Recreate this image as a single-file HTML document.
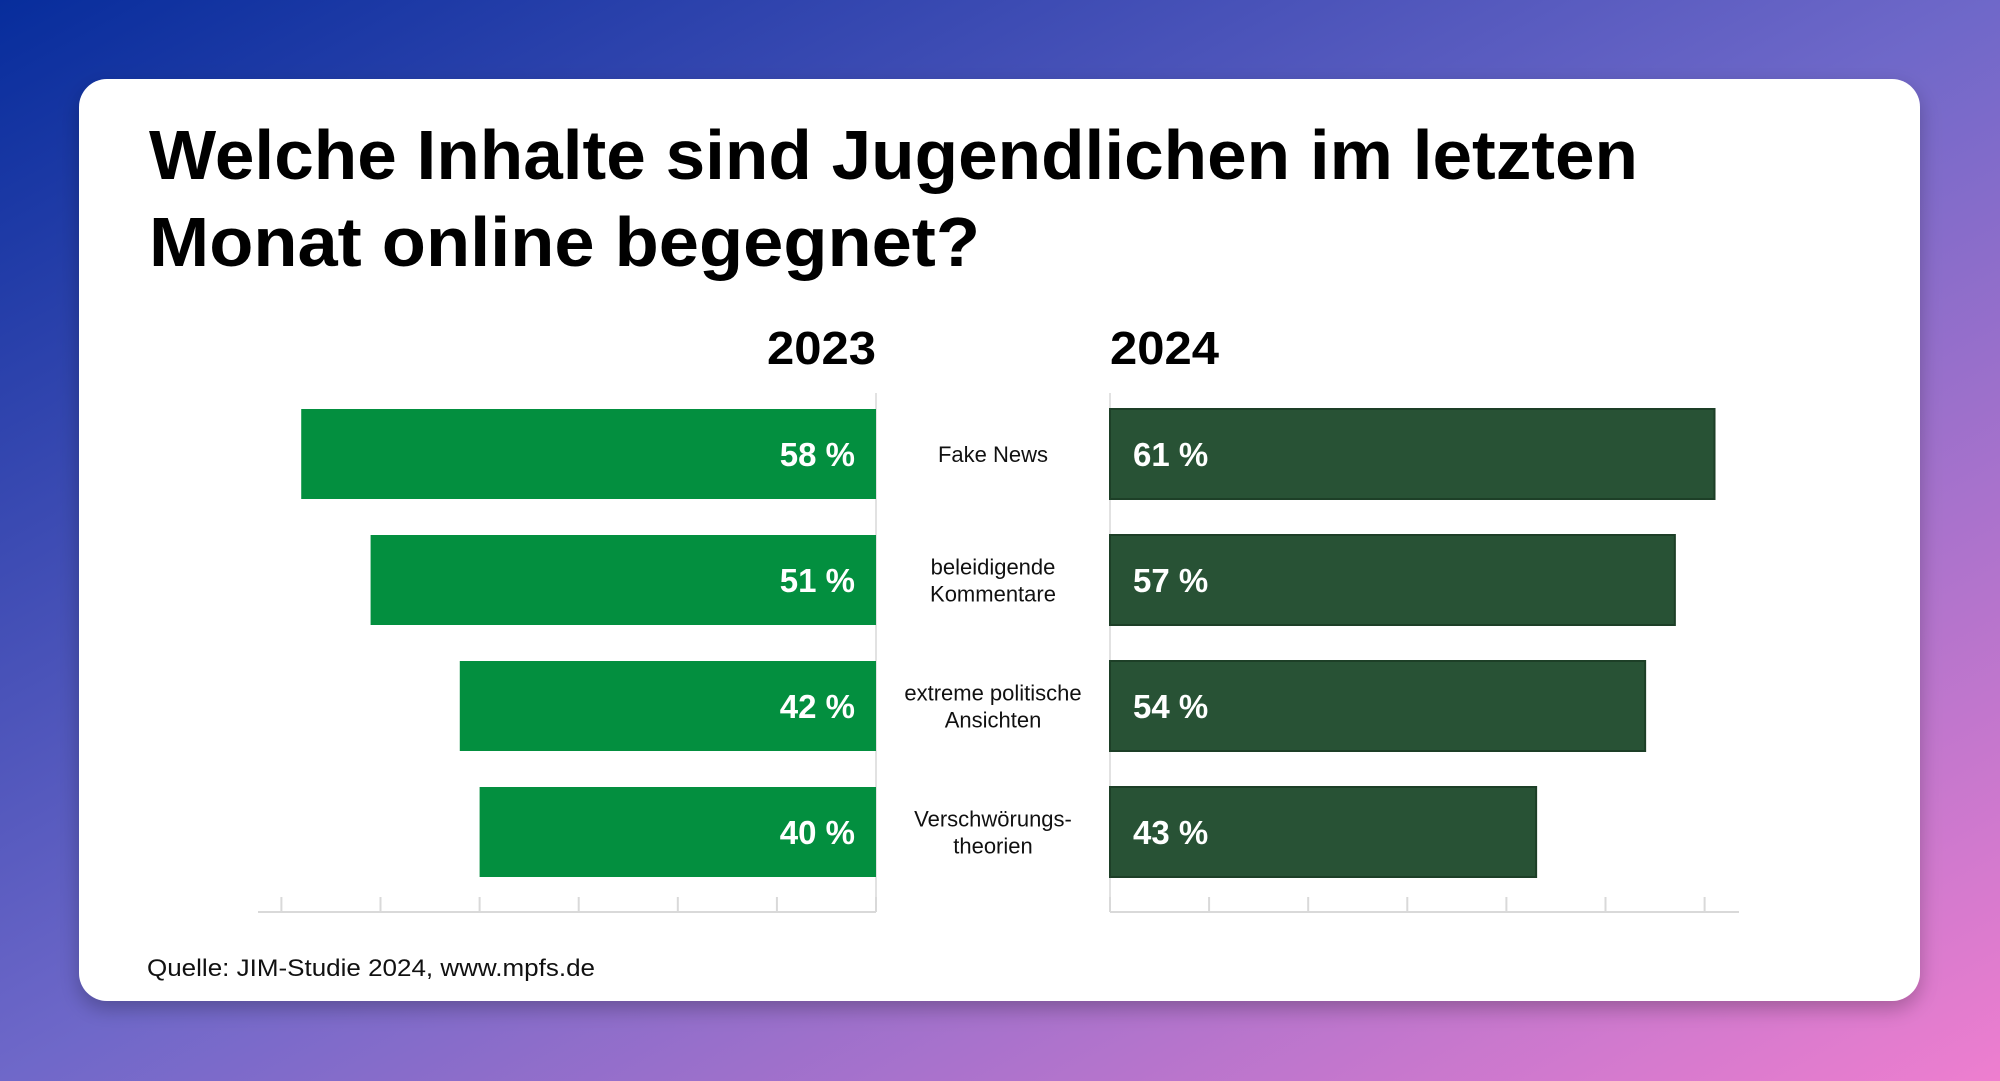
<!DOCTYPE html>
<html><head><meta charset="utf-8"><style>
html,body{margin:0;padding:0;width:2000px;height:1081px;overflow:hidden}
svg{display:block;font-family:"Liberation Sans",sans-serif}
</style></head><body>
<svg id="chart" width="2000" height="1081" viewBox="0 0 2000 1081" xmlns="http://www.w3.org/2000/svg">
<defs>
<linearGradient id="bg" x1="0" y1="0" x2="1" y2="1">
<stop offset="0" stop-color="#072d9c"/><stop offset="0.5" stop-color="#6f68c9"/><stop offset="1" stop-color="#ee7ecf"/>
</linearGradient>
<filter id="sh" x="-5%" y="-5%" width="110%" height="115%"><feDropShadow dx="0" dy="8" stdDeviation="10" flood-color="#000" flood-opacity="0.25"/></filter>
</defs>
<rect x="0" y="0" width="2000" height="1081" fill="url(#bg)"/>
<rect x="79" y="79" width="1841" height="922" rx="28" fill="#fff" filter="url(#sh)"/>
<text x="149" y="179" font-size="70" font-weight="bold" fill="#000" textLength="1489" lengthAdjust="spacingAndGlyphs">Welche Inhalte sind Jugendlichen im letzten</text>
<text x="149" y="266" font-size="70" font-weight="bold" fill="#000" textLength="831" lengthAdjust="spacingAndGlyphs">Monat online begegnet?</text>
<text x="876" y="364" font-size="46" font-weight="bold" text-anchor="end" textLength="109" lengthAdjust="spacingAndGlyphs">2023</text>
<text x="1110" y="364" font-size="46" font-weight="bold" textLength="109" lengthAdjust="spacingAndGlyphs">2024</text>
<text x="147" y="976" font-size="24" fill="#111" textLength="448" lengthAdjust="spacingAndGlyphs">Quelle: JIM-Studie 2024, www.mpfs.de</text>
<g id="plot"></g>
</svg>
<script>
const categories = [["Fake News"],["beleidigende","Kommentare"],["extreme politische","Ansichten"],["Verschwörungs-","theorien"]];
const values2023 = [58, 51, 42, 40];
const values2024 = [61, 57, 54, 43];
const ticks = [0, 10, 20, 30, 40, 50, 60];

const NS = "http://www.w3.org/2000/svg";
const g = document.getElementById('plot');
const L0 = 876, R0 = 1110, K = 9.91;
const xl = v => L0 - v * K;
const xr = v => R0 + v * K;
const rowY = i => 409 + i * 126;
const barH = 90;
const baseY = 912;
function mk(tag, attrs){const e=document.createElementNS(NS,tag);for(const k in attrs)e.setAttribute(k,attrs[k]);g.appendChild(e);return e;}

let e;
e = mk('line',{x1:L0,y1:393,x2:L0,y2:baseY,stroke:'#e2e2e2','stroke-width':2});


e = mk('line',{x1:R0,y1:393,x2:R0,y2:baseY,stroke:'#e2e2e2','stroke-width':2});


e = mk('line',{x1:258,y1:baseY,x2:L0,y2:baseY,stroke:'#d9d9d9','stroke-width':2});


e = mk('line',{x1:R0,y1:baseY,x2:1739,y2:baseY,stroke:'#d9d9d9','stroke-width':2});


ticks.forEach(t=>{
  let a = mk('line',{x1:xl(t),y1:baseY-15,x2:xl(t),y2:baseY,stroke:'#d9d9d9','stroke-width':2});
  
  
  let b = mk('line',{x1:xr(t),y1:baseY-15,x2:xr(t),y2:baseY,stroke:'#d9d9d9','stroke-width':2});
  
  
});
categories.forEach((c,i)=>{
  const y = rowY(i);
  let b1 = mk('rect',{x:xl(values2023[i]),y:y,width:values2023[i]*K,height:barH,fill:'#038f3f'});
  
  
  let b2 = mk('rect',{x:R0,y:y,width:values2024[i]*K,height:barH,fill:'#285235',stroke:'#1d3f27','stroke-width':2});
  
  
  let v1 = mk('text',{x:855,y:y+57,'font-size':33,'font-weight':'bold',fill:'#fff','text-anchor':'end'});
  v1.textContent = values2023[i] + ' %';
  
  
  let v2 = mk('text',{x:1133,y:y+57,'font-size':33,'font-weight':'bold',fill:'#fff'});
  v2.textContent = values2024[i] + ' %';
  
  
  const n = c.length;
  c.forEach((line,j)=>{
    let t = mk('text',{x:993,y:y+53+(j-(n-1)/2)*27,'font-size':22,fill:'#111','text-anchor':'middle'});
    t.textContent = line;
    
    
  });
});
</script>
</body></html>
